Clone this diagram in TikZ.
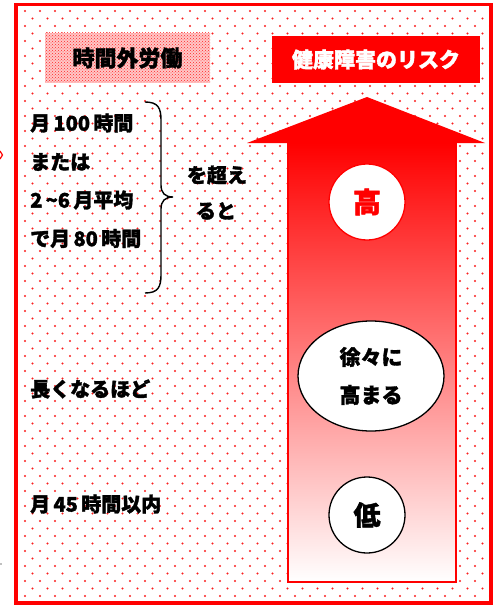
\documentclass[tikz,border=0pt]{standalone}
\usepackage{fontspec}
\setmainfont{Noto Sans CJK JP}[BoldFeatures={FakeBold=1.6}]
\usetikzlibrary{shapes.geometric,patterns}
\definecolor{dotred}{RGB}{250,30,30}
\tikzset{
  jp/.style={font=\bfseries\fontsize{20}{24}\selectfont, inner sep=0pt},
  lefttxt/.style={jp, anchor=west},
  riskmark/.style={circle, fill=white, minimum size=76pt, inner sep=0pt, line width=1.3pt},
}
\begin{document}
\begin{tikzpicture}[x=1pt,y=-1pt]
\useasboundingbox (0,0) rectangle (495,607);
\fill[white] (0,0) rectangle (495,607);
% dotted background
\begin{scope}
  \clip (18,6) rectangle (489,601);
  \foreach \r in {0,...,79} {
    \pgfmathsetmacro\yy{11+7.5*\r}
    \pgfmathsetmacro\xo{mod(\r,2)*7.5}
    \foreach \c in {0,...,31} {
      \fill[dotred] ({25+\xo+15*\c},\yy) circle (1.15pt);
    }
  }
\end{scope}
% frame
\draw[red, line width=3.5pt] (16,4.5) rectangle (491,603);
% stray marks at the left edge
\draw[red, line width=1.2pt] (0,151) -- (2.5,155) -- (0,159);
\fill[gray] (1,564) circle (0.8pt);
% overtime label box
\node[jp, font=\bfseries\fontsize{22}{26}\selectfont, preaction={fill=red!22},
      pattern=crosshatch dots, pattern color=red!85,
      minimum width=165pt, minimum height=50pt] (otbox) at (127.5,58) {時間外労働};
\node[jp, font=\bfseries\fontsize{21}{26}\selectfont, fill=red, text=white,
      minimum width=208pt, minimum height=47pt] (riskbox) at (376,59.5) {健康障害のリスク};
% arrow
\draw[red, line width=1.5pt, top color=red, middle color=red!35, bottom color=white]
  (288,143) rectangle (456,582);
\fill[red] (247,143) -- (367,97) -- (485,143) -- cycle;
% risk marks
\node[riskmark, draw=red, text=red, font=\bfseries\fontsize{28}{32}\selectfont] (high) at (367,202) {高};
\node[ellipse, draw=black, fill=white, line width=1.3pt, minimum width=146pt, minimum height=110pt,
      inner sep=0pt, align=center, font=\bfseries\fontsize{21}{38}\selectfont] (mid) at (371,376) {徐々に\\高まる};
\node[riskmark, draw=black, font=\bfseries\fontsize{27}{32}\selectfont] (low) at (367,515) {低};
% left texts
\node[lefttxt] (t1) at (30,123) {月\,100\,時間};
\node[lefttxt] (t2) at (30,162) {または};
\node[lefttxt] (t3) at (30,200) {2\,{\char"7E}6\,月平均};
\node[lefttxt] (t4) at (30,238.5) {で月\,80\,時間};
\node[jp] (t5) at (217,175) {を超え};
\node[jp] (t6) at (216,211) {ると};
\node[lefttxt] (t7) at (30,389) {長くなるほど};
\node[lefttxt] (t8) at (30,504) {月\,45\,時間以内};
% brace
\draw[black, line width=1.4pt]
  (145,102) .. controls (158,102) and (161,108) .. (161,120) -- (161,185)
  .. controls (161,193) and (165,197) .. (173,197)
  .. controls (165,197) and (161,201) .. (161,209) -- (161,275)
  .. controls (161,287) and (158,293) .. (145,293);
\end{tikzpicture}
\end{document}
